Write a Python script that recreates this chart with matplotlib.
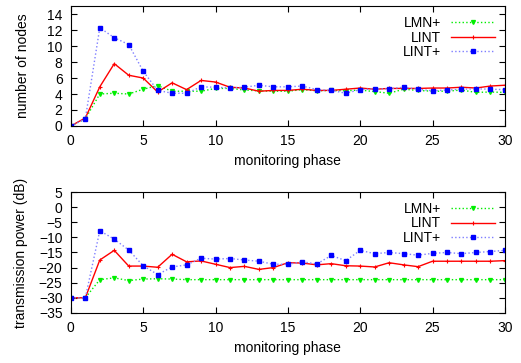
import matplotlib
matplotlib.use("Agg")
import matplotlib.pyplot as plt
import numpy as np

plt.rcParams['font.family'] = ['Liberation Sans', 'DejaVu Sans']
plt.rcParams['font.size'] = 10

# monitoring phase
phase = np.arange(0, 31)

# number of nodes
nodes_lmn = [0, 0.9, 4.0, 4.1, 4.0, 4.6, 5.05, 4.35, 4.35, 4.35, 4.7, 4.7, 4.5, 4.4, 4.35, 4.35,
             4.55, 4.4, 4.45, 4.4, 4.5, 4.3, 4.1, 4.6, 4.45, 4.35, 4.35, 4.5, 4.2, 4.25, 4.2]
nodes_lint = [0, 1.0, 4.9, 7.8, 6.35, 6.0, 4.25, 5.4, 4.55, 5.7, 5.5, 4.85, 4.75, 4.35, 4.45, 4.45,
              4.6, 4.45, 4.45, 4.6, 4.75, 4.6, 4.7, 4.7, 4.7, 4.75, 4.75, 4.85, 4.75, 5.0, 5.1]
nodes_lintp = [0, 0.9, 12.3, 11.05, 10.2, 6.85, 4.45, 4.1, 4.1, 4.9, 4.85, 4.75, 4.85, 5.1, 4.9, 4.9,
               5.0, 4.55, 4.45, 4.1, 4.55, 4.65, 4.65, 4.85, 4.6, 4.4, 4.5, 4.6, 4.65, 4.6, 4.55]

# transmission power (dB)
pow_lmn = [-30, -30, -24.0, -23.4, -24.3, -23.8, -23.7, -23.8, -24, -24, -24, -24, -24, -24, -24, -24,
           -24, -24, -24, -24, -24, -24, -24, -24, -24, -24, -24, -24, -24, -24, -24]
pow_lint = [-30, -30, -17.5, -14.3, -19.5, -19.5, -19.9, -15.6, -18.1, -17.8, -18.9, -20.0, -19.6, -20.6,
            -20.0, -18.4, -18.5, -19.1, -18.7, -19.4, -19.5, -19.8, -18.4, -19.1, -19.7, -17.9, -17.9,
            -17.9, -17.9, -17.9, -17.7]
pow_lintp = [-30, -30, -7.8, -10.6, -14.2, -19.4, -22.3, -19.8, -19.1, -16.9, -17.2, -17.0, -17.5, -17.9,
             -18.9, -18.9, -18.1, -18.8, -16.0, -17.7, -14.3, -15.4, -15.0, -15.4, -15.9, -15.3, -15.0,
             -15.4, -15.0, -14.7, -14.3]

fig = plt.figure(figsize=(5.21, 3.63), dpi=100)
ax1 = fig.add_axes([0.136, 0.653, 0.833, 0.330])
ax2 = fig.add_axes([0.136, 0.138, 0.833, 0.333])


def draw(ax, lmn, lint, lintp):
    ax.plot(phase, lmn, color='#00ee00', ls=':', lw=1, marker='v', ms=2.8, label='LMN+')
    ax.plot(phase, lint, color='#ff0000', ls='-', lw=1, marker='+', ms=3, mew=0.8, label='LINT')
    ax.plot(phase, lintp, color='#7f7fff', ls=':', lw=1, marker='s', ms=2.8,
            mfc='#0000ff', mec='#0000ff', label='LINT+')
    ax.set_xlim(0, 30)
    ax.set_xticks(range(0, 31, 5))
    ax.set_xlabel('monitoring phase', labelpad=4)
    ax.tick_params(direction='in', length=4, top=True, right=True, pad=6)
    ax.legend(loc='upper right', frameon=False, markerfirst=False, handlelength=3.2,
              labelspacing=0.05, borderaxespad=0.3, handletextpad=0.7)
    for s in ax.spines.values():
        s.set_linewidth(0.8)


draw(ax1, nodes_lmn, nodes_lint, nodes_lintp)
ax1.set_ylim(0, 15)
ax1.set_yticks(range(0, 15, 2))
ax1.set_ylabel('number of nodes', labelpad=12)

draw(ax2, pow_lmn, pow_lint, pow_lintp)
ax2.set_ylim(-35, 5)
ax2.set_yticks(range(-35, 6, 5))
ax2.set_ylabel('transmission power (dB)', labelpad=8)

fig.savefig('out.png', dpi=100)
